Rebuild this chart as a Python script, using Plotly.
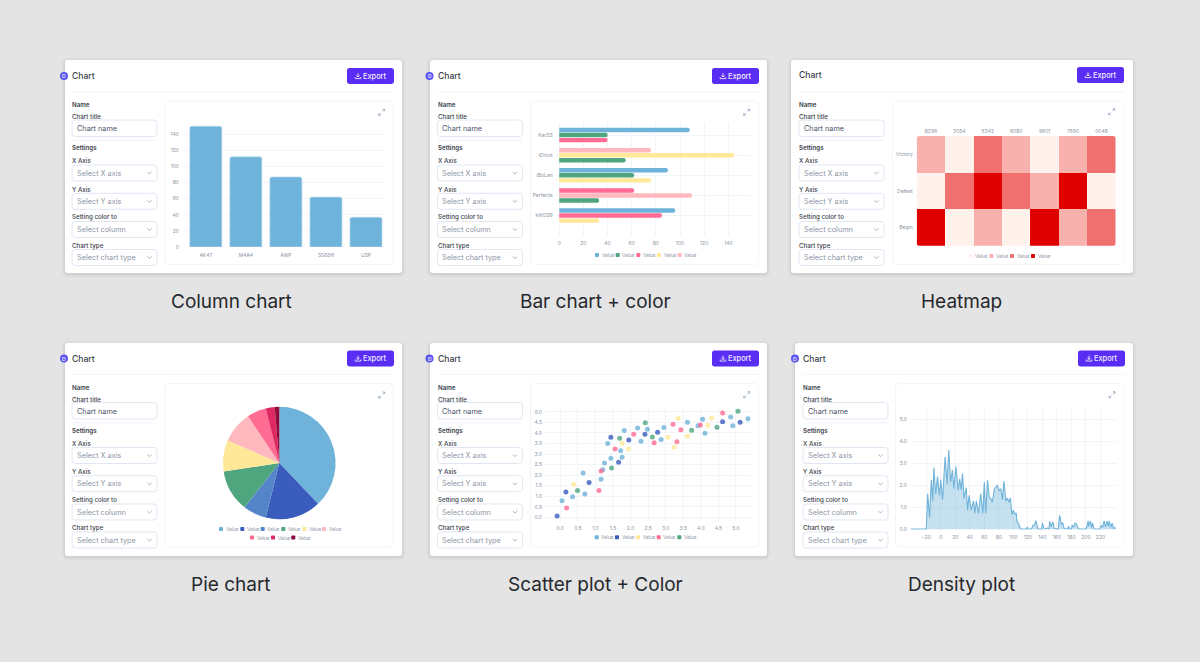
import plotly.graph_objects as go

# ---------- data ----------
col_cats = ["AK47", "M4A4", "AWP", "SG556", "USP"]
col_vals = [150, 112, 87, 62, 37]

bar_cats = ["KarSS", "tDrick", "iBoLan", "Perfecta", "kiKOS9"]
bar_blue = [108, None, 90, None, 96]
bar_green = [40, 55, 62, 33, None]
bar_pink = [40, None, None, 62, 85]
bar_yellow = [None, 145, 76, None, 33]
bar_rose = [None, 76, None, 110, None]
# which of the three positions inside a group each series takes
slot_blue = [0, 0, 0, 0, 0]
slot_green = [1, 2, 1, 2, 0]
slot_pink = [2, 0, 0, 0, 1]
slot_yellow = [0, 1, 2, 0, 2]
slot_rose = [0, 0, 0, 1, 0]

heat_cols = ["8296", "3054", "5342", "6080", "9601", "7590", "0048"]
heat_rows = ["Victory", "Defeat", "Begin"]
heat_z = [[1, 0, 2, 1, 0, 1, 2],
          [0, 2, 3, 2, 1, 3, 0],
          [3, 0, 1, 0, 3, 1, 2]]

pie_vals = [38, 16, 6.7, 12, 9, 9.1, 5.5, 2.6, 1.3]

sc_blue_x = [.05, .35, .70, .65, 1.16, 1.21, 1.26, 1.44, 1.76, 1.72, 1.35, 1.82, 2.30, 2.20, 2.48, 2.87, 2.95, 3.62, 3.92, 4.05, 4.12, 4.85, 4.91, 5.34]
sc_blue_y = [.78, .97, 1.11, 2.10, 1.80, 2.25, 2.58, 2.80, 2.85, 3.16, 3.50, 4.11, 3.61, 4.24, 4.18, 3.69, 4.26, 4.51, 4.34, 4.65, 3.99, 4.75, 4.34, 4.67]
sc_dark_x = [-.09, .16, .82, 1.66, 1.44, 1.95, 2.41, 2.77, 4.62, 5.12]
sc_dark_y = [.06, 1.20, 1.65, 2.61, 3.80, 3.66, 3.94, 4.03, 4.53, 4.51]
sc_yellow_x = [.38, 1.76, 1.94, 3.06, 3.24, 3.35, 3.62, 4.20, 4.31]
sc_yellow_y = [1.55, 3.51, 3.24, 3.80, 3.32, 4.70, 3.84, 4.37, 4.70]
sc_pink_x = [.18, 1.10, 1.16, 1.56, 2.09, 2.67, 3.32, 3.21, 3.43, 3.99, 4.62]
sc_pink_y = [.44, 1.27, 2.20, 3.24, 3.94, 3.54, 3.58, 4.41, 4.15, 4.38, 4.94]
sc_green_x = [.49, 1.46, 1.69, 2.42, 2.62, 3.74, 4.46, 5.06]
sc_green_y = [1.27, 2.34, 3.75, 4.48, 3.81, 4.13, 4.27, 5.03]

den_x = [-41, -20, -18, -15.4, -13, -11, -9.5, -7, -4.5, -2, 0, 2.5, 6, 8.8, 11, 13.5, 16, 18, 20.8, 24, 26, 28, 30, 32, 35, 37, 39, 42, 45, 47, 49, 52, 55, 58, 60, 62, 64.4, 66.7, 69, 71, 74, 77.7, 80.5, 82.8, 85, 87, 89.6, 92, 94, 96, 98, 100, 102, 104, 105, 107, 109, 111, 118, 119, 121, 125, 127, 129, 131, 133, 134, 139, 140, 142, 144, 147, 149, 150, 152, 154, 155, 156, 160, 162, 163, 164, 166, 168, 170, 173, 175, 176, 178, 180, 181, 183, 185, 187, 189, 191, 199, 201, 203, 204, 206, 208, 209, 211, 214, 219, 221, 223, 225, 227, 229, 231, 232, 234, 236, 238, 240, 241]
den_y = [.02, .02, 1.62, .55, 2.25, 1.3, 2.8, 1.6, 2.4, 1.55, 2.25, 1.35, 3.3, 2.07, 3.6, 2.15, 2.7, 1.85, 2.85, 1.77, 2.3, 1.8, 2.55, 1.4, 1.9, .88, 1.55, .88, 1.3, .73, 1.3, .73, 1.62, .73, 2.15, .73, 2.23, 1.47, 1.4, 1.23, 1.85, 2.0, 1.77, 1.85, 1.35, 2.2, 1.3, 1.43, 1.23, 1.43, .67, .88, .7, .75, .35, .3, .1, .02, .02, .12, .02, .02, .2, .2, .4, .1, .02, .02, .3, .08, .02, .08, .02, .38, .12, .32, .3, .05, .02, .02, .45, .65, .25, .3, .05, .02, .02, .15, .02, .02, .2, .12, .3, .25, .08, .02, .02, .1, .4, .15, .38, .1, .3, .05, .02, .02, .2, .1, .4, .12, .38, .15, .4, .1, .3, .05, .1, .02]

legend_label = "Value"
captions = ["Column chart", "Bar chart + color", "Heatmap", "Pie chart", "Scatter plot + Color", "Density plot"]

# ---------- styling ----------
W, H = 1200, 662
FONT = "Inter"
BLUE, DARK, MID, GREEN, YEL, ROSE, PINK, CRIM, MAROON = (
    "#6FB3DA", "#3A5CBD", "#5585C9", "#4FA57E", "#FFE999", "#FFB8BE", "#FF6B93", "#DE2A62", "#8E0A3A")
H0, H1, H2, H3 = "#FFF1EC", "#F9B1AE", "#F07070", "#E00000"
GRID = "#F1F4F8"
TICK = "#8B94A3"
LABEL = "#3A3F4A"
TF = dict(family=FONT, size=5, color=TICK)

px = lambda v: v / W
py = lambda v: 1 - v / H
shapes, notes = [], []


def rrect_path(l, t, r, b, rad):
    p = lambda x, y: f"{px(x):.6f},{py(y):.6f}"
    return (f"M{p(l+rad,t)} L{p(r-rad,t)} Q{p(r,t)} {p(r,t+rad)} L{p(r,b-rad)} Q{p(r,b)} {p(r-rad,b)} "
            f"L{p(l+rad,b)} Q{p(l,b)} {p(l,b-rad)} L{p(l,t+rad)} Q{p(l,t)} {p(l+rad,t)} Z")


def rrect(l, t, r, b, rad, fill, line=None, lw=1, opacity=1, layer="below"):
    shapes.append(dict(type="path", xref="paper", yref="paper", path=rrect_path(l, t, r, b, rad),
                       fillcolor=fill, line=dict(color=line or "rgba(0,0,0,0)", width=lw if line else 0),
                       opacity=opacity, layer=layer))


def stroke(points, color, lw=0.8, layer="below"):
    d = "M" + " L".join(f"{px(x):.6f},{py(y):.6f}" for x, y in points)
    shapes.append(dict(type="path", xref="paper", yref="paper", path=d,
                       line=dict(color=color, width=lw), layer=layer))


def text(x, y, s, size, color=LABEL, weight=400, anchor="left"):
    nudge = -1 if anchor == "left" else 0
    notes.append(dict(x=px(x + nudge), y=py(y), xref="paper", yref="paper", text=s, showarrow=False,
                      xanchor=anchor, yanchor="middle", borderpad=0,
                      font=dict(family=FONT, size=size, color=color, weight=weight)))


def expand_icon(cx, cy):
    c = "#8FA5C2"
    stroke([(cx + 0.7, cy - 0.7), (cx + 3, cy - 3)], c)
    stroke([(cx + 1, cy - 3), (cx + 3, cy - 3), (cx + 3, cy - 1)], c)
    stroke([(cx - 0.7, cy + 0.7), (cx - 3, cy + 3)], c)
    stroke([(cx - 3, cy + 1), (cx - 3, cy + 3), (cx - 1, cy + 3)], c)


def card(l, r, t, b, cx, pl, pr, ex, ty=0, dot=True, exp=(0, 0), dy=0):
    Y = lambda v: v + dy
    for grow, op in ((3.5, .02), (2.2, .025), (1, .03)):
        rrect(l - grow, t - grow + 1, r + grow, b + grow + 1, 4 + grow, "#000000", opacity=op)
    rrect(l, t, r, b, 3, "#FFFFFF")
    if dot:
        shapes.append(dict(type="circle", xref="paper", yref="paper", x0=px(cx - 12), x1=px(cx - 4),
                           y0=py(Y(76) + 4), y1=py(Y(76) - 4), fillcolor="#5A55F0", line=dict(width=0), layer="below"))
        text(cx - 8, Y(76), "D", 5, "#FFFFFF", 500, "center")
    text(cx, Y(76) + ty, "Chart", 8.6, LABEL, 500)
    # export button
    rrect(ex, Y(68) + ty, ex + 47, Y(84) + ty, 2.5, "#5A2DF5")
    ix, iy = ex + 11, Y(76) + ty
    stroke([(ix, iy - 2.8), (ix, iy + 1), ], "#FFFFFF", .8)
    stroke([(ix - 1.7, iy - .6), (ix, iy + 1), (ix + 1.7, iy - .6)], "#FFFFFF", .8)
    stroke([(ix - 2.8, iy + 1), (ix - 2.8, iy + 2.6), (ix + 2.8, iy + 2.6), (ix + 2.8, iy + 1)], "#FFFFFF", .8)
    text(ex + 16, iy, "Export", 7.4, "#F1EEFF", 500)
    stroke([(cx, Y(92)), (ex + 47, Y(92))], "#EEF1F6", .8)
    # form
    text(cx, Y(104.5), "Name", 6.2, LABEL, 600)
    text(cx, Y(116.5), "Chart title", 6.2, LABEL, 500)
    rrect(cx, Y(120), cx + 85, Y(136.5), 3, "#FFFFFF", "#DCE4F2", .9)
    text(cx + 4.5, Y(128.5), "Chart name", 7.3, "#4A5266")
    stroke([(cx, Y(140.3)), (cx + 85, Y(140.3))], "#EEF1F6", .8)
    text(cx, Y(148.5), "Settings", 6.2, LABEL, 600)
    rows = [(160.5, "X Axis", 165, "Select X axis"), (189, "Y Axis", 193.3, "Select Y axis"),
            (217, "Setting color to", 221.5, "Select column"), (245.5, "Chart type", 249.5, "Select chart type")]
    for ly, lab, st, ph in rows:
        text(cx, Y(ly), lab, 6.2, LABEL, 500)
        rrect(cx, Y(st), cx + 85, Y(st + 16), 3, "#FFFFFF", "#DCE4F2", .9)
        text(cx + 4.5, Y(st + 8), ph, 7.3, "#8D95A5")
        ch = cx + 77.5
        stroke([(ch - 2.2, Y(st + 7)), (ch, Y(st + 9)), (ch + 2.2, Y(st + 7))], "#8D95A5", .7)
    rrect(pl, Y(101), pr, Y(264.5), 5, "#FFFFFF", "#F1F3F7", .9)
    expand_icon(*exp)


def swatches(items, y):
    for sx, c in items:
        rrect(sx - 2, y - 2, sx + 2, y + 2, .7, c)
        text(sx + 4.6, y, legend_label, 4.8, TICK)


# cards
card(65, 402, 60, 273, 72, 164.5, 393.5, 347, exp=(381.7, 112.3))
card(430, 767, 60, 273, 437.5, 530.5, 758.5, 712, exp=(746.7, 112.3))
card(791, 1133, 60, 273, 799, 892.5, 1124, 1077, ty=-1, dot=False, exp=(1111.7, 111.7))
card(65, 402, 343, 556, 72, 164.5, 393.5, 347, exp=(381.7, 395), dy=282.5)
card(430, 767, 343, 556, 437.5, 530.5, 758.5, 712, exp=(746.7, 394.7), dy=282.5)
card(795, 1133, 343, 556, 803, 895.5, 1124, 1078, exp=(1112, 394.7), dy=282.5)

for (cxp, cyp), cap in zip([(231, 301.5), (595, 301.5), (961, 301.5), (231, 584), (595, 584), (961, 584)], captions):
    text(cxp, cyp, cap, 19, "#26282D", 400, "center")

swatches([(597, BLUE), (617.7, GREEN), (638.3, PINK), (659, YEL), (679.7, ROSE)], 255)
swatches([(970.7, H0), (991.3, H1), (1012, H2), (1033, H3)], 256)
swatches([(221, BLUE), (242.3, DARK), (262.7, MID), (283.3, GREEN), (304.3, YEL), (324, ROSE)], 529)
swatches([(252, PINK), (273, CRIM), (293.3, MAROON)], 537.5)
swatches([(596.7, BLUE), (617, DARK), (638, YEL), (658.7, PINK), (679.3, GREEN)], 537.3)

# heatmap corner masks
hl, ht, hr, hb, hc = 916.7, 136, 1115.7, 245.7, 3
for cx0, cy0, sx, sy in [(hl, ht, 1, 1), (hr, ht, -1, 1), (hl, hb, 1, -1), (hr, hb, -1, -1)]:
    a = f"{px(cx0):.6f},{py(cy0):.6f}"
    b = f"{px(cx0 + sx*hc):.6f},{py(cy0):.6f}"
    c = f"{px(cx0):.6f},{py(cy0 + sy*hc):.6f}"
    shapes.append(dict(type="path", xref="paper", yref="paper", path=f"M{a} L{b} Q{a} {c} Z",
                       fillcolor="#FFFFFF", line=dict(width=0), layer="above"))


def dom_x(l, r):
    return [px(l), px(r)]


def dom_y(t, b):
    return [py(b), py(t)]


def axis(domain, anchor, grid=True, **kw):
    d = dict(domain=domain, anchor=anchor, showgrid=grid, gridcolor=GRID, gridwidth=.8, zeroline=False,
             showline=False, tickfont=TF, ticks="outside", tickcolor="rgba(0,0,0,0)", fixedrange=True, automargin=False)
    d.update(kw)
    return d


fig = go.Figure()

# column chart
fig.add_trace(go.Bar(x=col_cats, y=col_vals, marker=dict(color=BLUE, line=dict(color="#B7D8EE", width=.7)),
                     width=.8, xaxis="x", yaxis="y", showlegend=False))

# horizontal bar chart
slot_start = lambda slots: [s * .25 - .36 for s in slots]
for vals, slots, c in [(bar_blue, slot_blue, BLUE), (bar_green, slot_green, GREEN), (bar_pink, slot_pink, PINK),
                       (bar_yellow, slot_yellow, YEL), (bar_rose, slot_rose, ROSE)]:
    fig.add_trace(go.Bar(y=bar_cats, x=vals, orientation="h", width=.22, offset=slot_start(slots),
                         marker=dict(color=c, line=dict(width=0)), xaxis="x2", yaxis="y2", showlegend=False))

# heatmap
fig.add_trace(go.Heatmap(z=heat_z, x=heat_cols, y=heat_rows, zmin=0, zmax=3, showscale=False, xaxis="x3", yaxis="y3",
                         colorscale=[[0, H0], [.25, H0], [.25, H1], [.5, H1], [.5, H2], [.75, H2], [.75, H3], [1, H3]]))

# pie
fig.add_trace(go.Pie(values=pie_vals, sort=False, direction="clockwise", rotation=0, textinfo="none", showlegend=False,
                     marker=dict(colors=[BLUE, DARK, MID, GREEN, YEL, ROSE, PINK, CRIM, MAROON], line=dict(width=0)),
                     domain=dict(x=[px(223), px(335.6)], y=[py(519.3), py(406.7)])))

# scatter
for xs, ys, c in [(sc_blue_x, sc_blue_y, BLUE), (sc_dark_x, sc_dark_y, DARK), (sc_yellow_x, sc_yellow_y, YEL),
                  (sc_pink_x, sc_pink_y, PINK), (sc_green_x, sc_green_y, GREEN)]:
    fig.add_trace(go.Scatter(x=xs, y=ys, mode="markers", xaxis="x4", yaxis="y4", showlegend=False,
                             marker=dict(color=c, size=5, opacity=.8, line=dict(width=0))))

# density
fig.add_trace(go.Scatter(x=den_x, y=den_y, mode="lines", fill="tozeroy", fillcolor="rgba(111,179,218,.4)",
                         line=dict(color=BLUE, width=1.1), xaxis="x5", yaxis="y5", showlegend=False))

fig.update_layout(
    width=W, height=H, margin=dict(l=0, r=0, t=0, b=0, pad=0, autoexpand=False), autosize=False,
    paper_bgcolor="#E4E4E4", plot_bgcolor="rgba(0,0,0,0)",
    barmode="overlay", barcornerradius=2, showlegend=False,
    shapes=shapes, annotations=notes, font=dict(family=FONT),
    xaxis=axis(dom_x(183, 386), "y", grid=False, range=[-.57, 4.5], ticklen=3, type="category"),
    yaxis=axis(dom_y(122, 247), "x", range=[0, 155.3], tickvals=[0, 20, 40, 60, 80, 100, 120, 140], ticklen=2),
    xaxis2=axis(dom_x(556.7, 750.7), "y2", range=[-2.1, 158.5], tickvals=[0, 20, 40, 60, 80, 100, 120, 140], ticklen=2),
    yaxis2=axis(dom_y(123, 235.7), "x2", type="category", range=[5, -.6], ticklen=2),
    xaxis3=axis(dom_x(916.7, 1115.7), "y3", grid=False, side="top", type="category", ticklen=0),
    yaxis3=axis(dom_y(136, 245.7), "x3", grid=False, type="category", autorange="reversed", ticklen=2),
    xaxis4=axis(dom_x(545, 750.7), "y4", range=[-.435, 5.42], tickvals=[0, .5, 1, 1.5, 2, 2.5, 3, 3.5, 4, 4.5, 5], tickformat=".1f", ticklen=2),
    yaxis4=axis(dom_y(407, 521), "x4", range=[-.175, 5.23], tickvals=[0, .5, 1, 1.5, 2, 2.5, 3, 3.5, 4, 4.5, 5], tickformat=".1f", ticklen=1),
    xaxis5=axis(dom_x(911, 1115.7), "y5", range=[-41, 241], tickvals=list(range(-20, 221, 20)), ticklen=2),
    yaxis5=axis(dom_y(407, 529.6), "x5", range=[0, 5.55], tickvals=[0, 1, 2, 3, 4, 5], tickformat=".1f", ticklen=2),
)

fig.write_html("out.html", config=dict(displayModeBar=False),
               post_script="var s=document.documentElement.style,b=document.body.style;b.margin='0';"
                           "b.height='662px';b.overflow='hidden';s.height='662px';s.overflow='hidden';")
